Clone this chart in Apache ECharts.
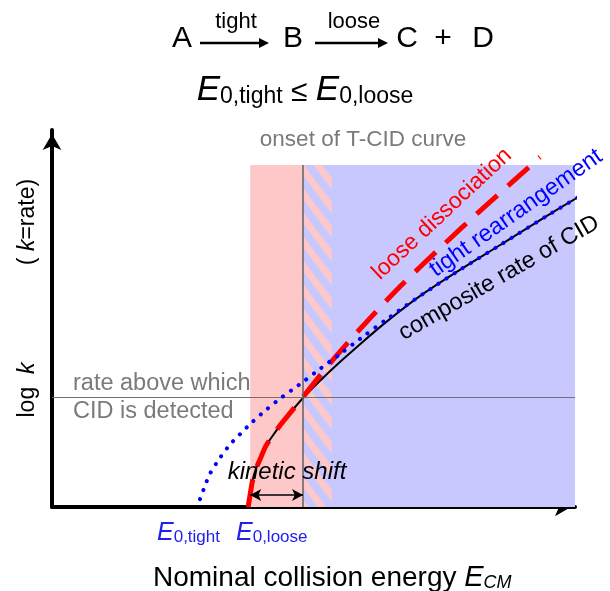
<!DOCTYPE html>
<html><head><meta charset="utf-8">
<script src="https://cdn.jsdelivr.net/npm/echarts@6/dist/echarts.min.js"></script>
<style>html,body{margin:0;padding:0;background:#fff}#c{width:610px;height:591px}</style>
</head><body><div id="c"></div>
<script>
// Composite rate of CID (black solid)
const compositeE    = [3.75, 3.79, 3.84, 3.90, 3.98, 4.09, 4.23, 4.38, 4.55, 4.80, 5.12, 5.51, 5.89, 6.41, 7.04, 7.80, 8.57, 9.52, 10.61];
const compositeLogK = [0.00, 0.34, 0.74, 1.01, 1.27, 1.62, 1.91, 2.20, 2.49, 2.89, 3.34, 3.85, 4.32, 4.93, 5.60, 6.29, 6.95, 7.77, 8.67];
// Loose dissociation (red dashed)
const looseE    = [3.75, 3.79, 3.84, 3.90, 3.98, 4.09, 4.23, 4.38, 4.55, 4.80, 5.32, 5.89, 6.65, 7.42, 8.18, 8.76, 9.33];
const looseLogK = [0.00, 0.34, 0.74, 1.01, 1.27, 1.62, 1.91, 2.20, 2.49, 2.92, 3.82, 4.72, 5.84, 6.87, 7.85, 8.57, 9.28];
// Tight rearrangement (blue dotted)
const tightE    = [2.83, 2.93, 3.02, 3.21, 3.40, 3.60, 3.79, 4.02, 4.30, 4.61, 4.80, 5.12, 5.51, 5.89, 6.41, 7.04, 7.80, 8.57, 9.52, 10.61];
const tightLogK = [0.21, 0.58, 0.88, 1.30, 1.65, 1.94, 2.20, 2.49, 2.81, 3.13, 3.32, 3.66, 4.06, 4.46, 4.99, 5.60, 6.29, 6.95, 7.77, 8.67];
// Reference positions
const e0Loose = 3.79, onsetE = 4.80, hatchEndE = 5.35, shadeMaxE = 10, shadeTopLogK = 9.07;
const detectLogK = 2.9, shiftArrowLogK = 0.32;

const FONT = '"Liberation Sans", Arial, sans-serif';
const zip = (a, b) => a.map((v, i) => [v, b[i]]);

function hatchPattern() {
  const c = document.createElement('canvas');
  c.width = 18; c.height = 24;
  const g = c.getContext('2d');
  g.fillStyle = '#c8c8ff'; g.fillRect(0, 0, 18, 24);
  g.fillStyle = '#ffc8c8';
  for (const o of [-24, 0, 24]) {
    g.beginPath(); g.moveTo(0, o); g.lineTo(18, o + 24); g.lineTo(18, o + 35); g.lineTo(0, o + 11); g.closePath(); g.fill();
  }
  return c;
}

const chart = echarts.init(document.getElementById('c'), null, {renderer: 'canvas'});

function txt(x, y, text, size, color, opts) {
  opts = opts || {};
  return {
    type: 'text', x: x, y: y, rotation: opts.rot || 0, z: 100,
    style: Object.assign({
      text: text, font: (opts.italic ? 'italic ' : '') + size + 'px ' + FONT, fill: color,
      align: opts.align || 'center', verticalAlign: opts.valign || 'middle',
      textAlign: opts.align || 'center', textVerticalAlign: opts.valign || 'middle'
    }, opts.rich ? {rich: opts.rich} : {})
  };
}
function arrow(x1, x2, y) {
  return [
    {type: 'line', shape: {x1: x1, y1: y, x2: x2 - 8, y2: y}, style: {stroke: '#000', lineWidth: 2.5}, z: 100},
    {type: 'polygon', shape: {points: [[x2 - 10, y - 5], [x2, y], [x2 - 10, y + 5]]}, style: {fill: '#000'}, z: 100}
  ];
}

const axisLineCfg = {show: true, onZero: false, symbol: ['none', 'arrow'], symbolSize: [14, 16], symbolOffset: [0, -4], lineStyle: {color: '#000', width: 4}};
const option = {
  animation: false,
  grid: {left: 52, right: 35, top: 130, bottom: 84},
  xAxis: {
    type: 'value', min: 0, max: 10, axisLine: axisLineCfg,
    axisTick: {show: false}, axisLabel: {show: false}, splitLine: {show: false}
  },
  yAxis: {
    type: 'value', min: 0, max: 10, axisLine: axisLineCfg,
    axisTick: {show: false}, axisLabel: {show: false}, splitLine: {show: false}
  },
  series: [
    {
      type: 'line', data: [], z: 1, silent: true,
      markArea: {
        silent: true, label: {show: false},
        data: [
          [{coord: [e0Loose, 0], itemStyle: {color: '#ffc8c8'}}, {coord: [onsetE, shadeTopLogK]}],
          [{coord: [onsetE, 0], itemStyle: {color: '#c8c8ff'}}, {coord: [shadeMaxE, shadeTopLogK]}],
          [{coord: [onsetE, 0], itemStyle: {color: {image: hatchPattern(), repeat: 'repeat'}}}, {coord: [hatchEndE, shadeTopLogK]}]
        ]
      }
    },
    {
      type: 'line', data: [], z: 2, silent: true,
      markLine: {
        silent: true, label: {show: false}, symbol: 'none',
        data: [
          [{coord: [0, detectLogK], lineStyle: {color: '#707070', width: 1, type: 'solid'}}, {coord: [shadeMaxE, detectLogK]}],
          [{coord: [onsetE, 0], lineStyle: {color: '#606060', width: 1.5, type: 'solid'}}, {coord: [onsetE, shadeTopLogK]}],
          [{coord: [e0Loose, shiftArrowLogK], symbol: 'arrow', symbolSize: [9, 11], lineStyle: {color: '#000', width: 1.5, type: 'solid'}},
           {coord: [onsetE, shiftArrowLogK], symbol: 'arrow', symbolSize: [9, 11]}]
        ]
      }
    },
    {
      name: 'composite', type: 'line', z: 3, clip: false, data: zip(compositeE, compositeLogK),
      smooth: 0.3, showSymbol: false, silent: true,
      lineStyle: {color: '#000', width: 2}
    },
    {
      name: 'loose', type: 'line', z: 4, clip: false, data: zip(looseE, looseLogK),
      smooth: 0.3, showSymbol: false, silent: true,
      lineStyle: {color: '#ff0000', width: 5, type: [28, 14]}
    },
    {
      name: 'tight', type: 'line', z: 5, clip: false, data: zip(tightE, tightLogK),
      smooth: 0.3, showSymbol: false, silent: true,
      lineStyle: {color: '#0000ff', width: 4, type: [0.1, 9.5], cap: 'round'}
    }
  ],
  graphic: [
    // Reaction scheme
    txt(182, 39, 'A', 30, '#000'),
    ...arrow(200, 269, 43),
    txt(236, 22, 'tight', 22, '#000'),
    txt(293, 39, 'B', 30, '#000'),
    ...arrow(315, 388, 43),
    txt(354, 22, 'loose', 22, '#000'),
    txt(407, 39, 'C', 30, '#000'),
    txt(443, 39, '+', 30, '#000'),
    txt(483, 39, 'D', 30, '#000'),
    txt(305, 88, '{E|E}{s|0,tight} {le|≤} {E|E}{s|0,loose}', 30, '#000', {
      rich: {
        E: {font: 'italic 35px ' + FONT, verticalAlign: 'bottom', lineHeight: 40},
        s: {font: '23px ' + FONT, verticalAlign: 'bottom', lineHeight: 40},
        le: {font: '30px ' + FONT, verticalAlign: 'bottom', lineHeight: 40}
      }
    }),
    // Annotations
    txt(363, 140, 'onset of T-CID curve', 22.5, '#7a7a7a'),
    txt(73, 384, 'rate above which', 23.5, '#7a7a7a', {align: 'left'}),
    txt(73, 412, 'CID is detected', 23.5, '#7a7a7a', {align: 'left'}),
    txt(287, 472, 'kinetic shift', 24, '#000', {italic: true}),
    txt(442, 214, 'loose dissociation', 23, '#ff0000', {rot: 43 * Math.PI / 180}),
    txt(516, 213, 'tight rearrangement', 23.5, '#0000ff', {rot: 35 * Math.PI / 180}),
    txt(499, 278, 'composite rate of CID', 23.5, '#000', {rot: 30 * Math.PI / 180}),
    // E0 labels
    txt(157, 531, '{E|E}{s|0,tight}', 24, '#2020ee', {align: 'left', rich: {
      E: {font: 'italic 25px ' + FONT, fill: '#2020ee', verticalAlign: 'bottom', lineHeight: 30},
      s: {font: '17px ' + FONT, fill: '#2020ee', verticalAlign: 'bottom', lineHeight: 30}}}),
    txt(236, 531, '{E|E}{s|0,loose}', 24, '#2020ee', {align: 'left', rich: {
      E: {font: 'italic 25px ' + FONT, fill: '#2020ee', verticalAlign: 'bottom', lineHeight: 30},
      s: {font: '17px ' + FONT, fill: '#2020ee', verticalAlign: 'bottom', lineHeight: 30}}}),
    // Axis titles
    txt(153, 576, '{n|Nominal collision energy }{E|E}{s|CM}', 28, '#000', {align: 'left', rich: {
      n: {font: '28px ' + FONT, verticalAlign: 'bottom', lineHeight: 32},
      E: {font: 'italic 29px ' + FONT, verticalAlign: 'bottom', lineHeight: 32},
      s: {font: 'italic 18px ' + FONT, verticalAlign: 'bottom', lineHeight: 27}}}),
    txt(28, 390, '{n|log  }{k|k}', 23, '#000', {rot: Math.PI / 2, rich: {
      n: {font: '23px ' + FONT}, k: {font: 'italic 23px ' + FONT}}}),
    txt(28, 222, '{n|( }{k|k}{n|=rate)}', 23, '#000', {rot: Math.PI / 2, rich: {
      n: {font: '23px ' + FONT}, k: {font: 'italic 23px ' + FONT}}})
  ]
};
chart.setOption(option);
</script></body></html>
